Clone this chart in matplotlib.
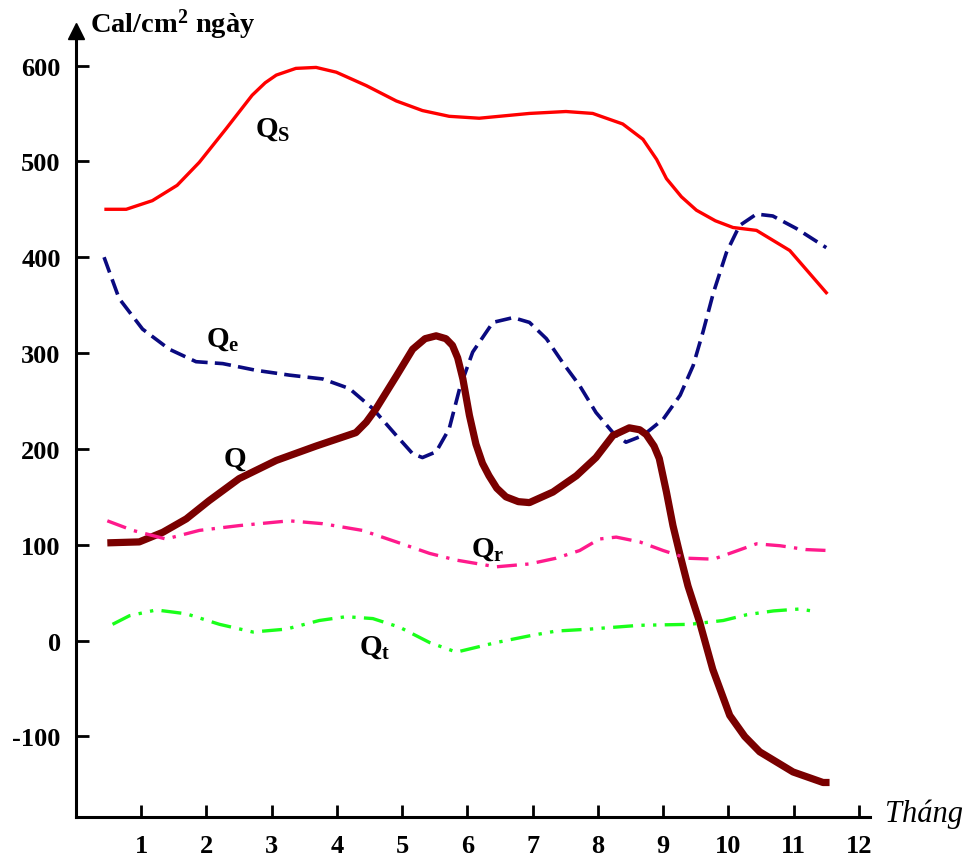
import matplotlib
matplotlib.use("Agg")
import matplotlib.pyplot as plt

plt.rcParams['font.family'] = ['Liberation Serif', 'DejaVu Serif']
plt.rcParams['font.weight'] = 'bold'
plt.rcParams['axes.unicode_minus'] = False
plt.rcParams['mathtext.fontset'] = 'custom'
plt.rcParams['mathtext.rm'] = 'Liberation Serif:bold'
plt.rcParams['mathtext.bf'] = 'Liberation Serif:bold'
plt.rcParams['mathtext.it'] = 'Liberation Serif:bold'

# --- Daten (Monat / cal/cm2 ngay) ---
qs_x = [0.46, 0.77, 1.17, 1.55, 1.89, 2.30, 2.70, 2.90, 3.07, 3.37, 3.68, 3.99, 4.45, 4.91, 5.31,
        5.72, 6.18, 6.95, 7.51, 7.92, 8.38, 8.69, 8.90, 9.05, 9.28, 9.51, 9.80, 10.07, 10.43, 10.94, 11.50]
qs_y = [450, 450, 459, 475, 499, 534, 569, 582, 590, 597, 598, 593, 579, 563, 553,
        547, 545, 550, 552, 550, 539, 523, 502, 482, 463, 449, 438, 431, 428, 407, 363]

qe_x = [0.43, 0.66, 1.02, 1.43, 1.84, 2.25, 2.76, 3.27, 3.78, 4.19, 4.55, 4.91, 5.16, 5.31,
        5.52, 5.72, 5.88, 6.08, 6.39, 6.70, 6.95, 7.21, 7.46, 7.72, 7.97, 8.23, 8.43, 8.69,
        9.00, 9.26, 9.46, 9.61, 9.77, 9.97, 10.17, 10.43, 10.68, 11.04, 11.50]
qe_y = [400, 357, 325, 304, 291, 289, 282, 277, 273, 263, 242, 214, 195, 191,
        197, 221, 263, 301, 332, 337, 332, 315, 290, 266, 238, 217, 207, 214,
        231, 256, 287, 322, 363, 405, 433, 445, 443, 430, 410]

q_x = [0.48, 0.97, 1.33, 1.69, 2.04, 2.50, 3.07, 3.68, 4.29, 4.45, 4.60, 4.91, 5.16, 5.35, 5.52,
       5.67, 5.77, 5.85, 5.93, 6.03, 6.13, 6.23, 6.33, 6.45, 6.59, 6.78, 6.95, 7.31, 7.67,
       7.97, 8.23, 8.48, 8.64, 8.74, 8.86, 8.94, 9.05, 9.15, 9.26, 9.38, 9.56, 9.76, 10.02,
       10.25, 10.48, 10.99, 11.45, 11.55]
q_y = [102, 103, 113, 127, 146, 169, 188, 203, 217, 228, 242, 276, 304, 315, 318,
       315, 308, 295, 273, 235, 205, 185, 172, 159, 150, 145, 144, 155, 172,
       191, 214, 222, 220, 215, 203, 190, 155, 120, 89, 57, 19, -30, -78,
       -100, -116, -137, -148, -148]

qr_x = [0.48, 0.87, 1.38, 1.89, 2.50, 3.27, 3.78, 4.39, 4.91, 5.42, 5.83, 6.44, 6.95, 7.36,
        7.72, 8.02, 8.28, 8.64, 9.00, 9.36, 9.77, 10.02, 10.43, 10.79, 11.19, 11.53]
qr_y = [125, 115, 106, 115, 120, 125, 122, 115, 103, 91, 84, 77, 80, 86,
        94, 106, 108, 103, 94, 86, 85, 91, 101, 99, 95, 94]

qt_x = [0.56, 0.82, 1.23, 1.69, 2.20, 2.71, 3.22, 3.73, 4.14, 4.55, 4.96, 5.42, 5.83, 6.44,
        6.95, 7.36, 7.87, 8.64, 9.41, 9.92, 10.28, 10.69, 11.09, 11.37]
qt_y = [17, 26, 32, 28, 17, 9, 12, 21, 25, 23, 14, -2, -12, -2,
        5, 10, 12, 16, 17, 21, 27, 31, 33, 30]

monate = list(range(1, 13))
y_ticks = [-100, 0, 100, 200, 300, 400, 500, 600]

fig = plt.figure(figsize=(9.72, 8.62), dpi=100)
ax = fig.add_axes([76 / 972, 44 / 862, (870 - 76) / 972, (818 - 32) / 862])

ax.plot(qs_x, qs_y, color='#ff0000', lw=2.4, solid_joinstyle='round')
ax.plot(qe_x, qe_y, color='#0a0a80', lw=2.6, dashes=(4.5, 2.0))
ax.plot(q_x, q_y, color='#7a0000', lw=5.2, solid_joinstyle='round', solid_capstyle='butt')
ax.plot(qr_x, qr_y, color='#ff1a8c', lw=2.4, dashes=(6, 2.5, 1, 2.5))
ax.plot(qt_x, qt_y, color='#1aff1a', lw=2.4, dashes=(6, 2.5, 1, 2.5, 1, 2.5))

# Beschriftungen der Kurven
ax.text(2.75, 527, r'Q$_\mathrm{S}$', fontsize=21)
ax.text(1.99, 308, r'Q$_\mathrm{e}$', fontsize=21)
ax.text(2.27, 183, 'Q', fontsize=21)
ax.text(6.06, 89, r'Q$_\mathrm{r}$', fontsize=21)
ax.text(4.34, -14, r'Q$_\mathrm{t}$', fontsize=21)

ax.set_xlim(0, 12.17)
ax.set_ylim(-184, 636)
ax.set_xticks(monate)
ax.set_yticks(y_ticks)
ax.tick_params(direction='in', length=9, width=2, labelsize=19, pad=11)
ax.tick_params(axis='x', pad=12)
for lab in ax.get_xticklabels() + ax.get_yticklabels():
    lab.set_fontweight('bold')

for s in ['top', 'right']:
    ax.spines[s].set_visible(False)
for s in ['left', 'bottom']:
    ax.spines[s].set_linewidth(2.2)

# Pfeil oben an der y-Achse
ax.plot(0, 1, marker='^', color='black', markersize=11, transform=ax.transAxes, clip_on=False)

fig.text(90 / 972, 1 - 33 / 862, r'Cal/cm$^\mathrm{2}$ ngày', fontsize=20.5, fontweight='bold', va='baseline')
fig.text(885 / 972, 1 - 822 / 862, 'Tháng', fontsize=22, fontstyle='italic', fontweight='normal', va='baseline')

fig.savefig('out.png', dpi=100)
